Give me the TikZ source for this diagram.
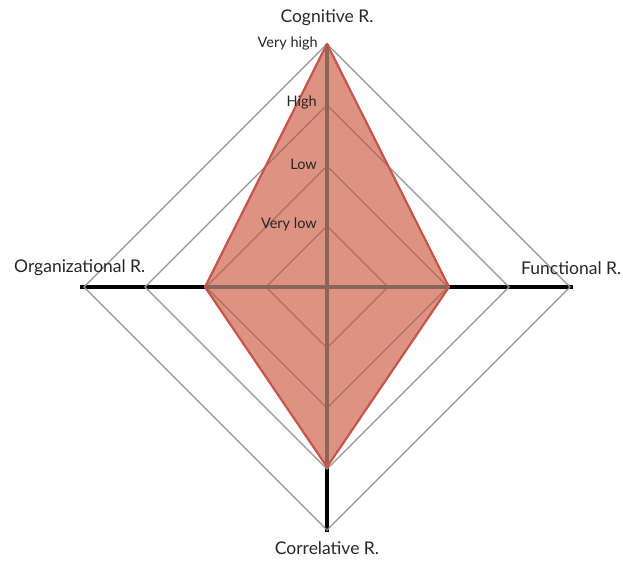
\documentclass[tikz,border=0pt]{standalone}
\usepackage{fontspec}
\setmainfont{Lato}
\begin{document}
\begin{tikzpicture}[x=1pt,y=1pt,
  axisline/.style={line width=3.2pt,black},
  gridline/.style={line width=1.3pt,color=gray!85},
  profilefillstyle/.style={fill=profilefill},
  profileedgestyle/.style={draw=profileedge,line width=2.2pt,line join=round},
  axislabel/.style={font=\fontsize{17.5}{20}\selectfont,text=black!85,inner sep=0pt},
  levellabel/.style={font=\fontsize{14.5}{16}\selectfont,text=black!85,inner sep=0pt,anchor=east}]
\definecolor{profilefill}{RGB}{221,146,130}
\definecolor{profileedge}{RGB}{198,85,75}
\definecolor{axisinside}{RGB}{140,100,90}
\definecolor{gridinside}{RGB}{172,110,98}
\useasboundingbox (-327,-273) rectangle (296,287);
% centre and axis ends
\coordinate (O) at (0,0);
\coordinate (T) at (0,243);
\coordinate (L) at (-247,0);
\coordinate (R) at (246,0);
\coordinate (B) at (0,-245);
% axes
\draw[axisline] (O) -- (T);
\draw[axisline] (L) -- (R);
\draw[axisline] (O) -- (B);
% level diamonds
\foreach \r in {61,121,182,243}
  \draw[gridline] (0,\r) -- (\r,0) -- (0,-\r) -- (-\r,0) -- cycle;
% profile
\coordinate (pT) at (0,243);
\coordinate (pR) at (122,0);
\coordinate (pB) at (0,-180);
\coordinate (pL) at (-122,0);
\fill[profilefillstyle] (pT) -- (pR) -- (pB) -- (pL) -- cycle;
% axes and levels seen through the profile
\begin{scope}
  \clip (pT) -- (pR) -- (pB) -- (pL) -- cycle;
  \foreach \r in {61,121,182,243}
    \draw[line width=1.3pt,gridinside] (0,\r) -- (\r,0) -- (0,-\r) -- (-\r,0) -- cycle;
  \draw[line width=3.2pt,axisinside] (O) -- (T);
  \draw[line width=3.2pt,axisinside] (L) -- (R);
  \draw[line width=3.2pt,axisinside] (O) -- (B);
\end{scope}
\draw[profileedgestyle] (pT) -- (pR) -- (pB) -- (pL) -- cycle;
% axis names
\node[axislabel] (cog) at (0,269) {Cognitive R.};
\node[axislabel,anchor=west] (org) at (-313,19) {Organizational R.};
\node[axislabel,anchor=west] (fun) at (194,19) {Functional R.};
\node[axislabel] (cor) at (0,-261) {Correlative R.};
% level names
\node[levellabel] (vh) at (-9,244) {Very high};
\node[levellabel] (hi) at (-10,185) {High};
\node[levellabel] (lo) at (-10,123) {Low};
\node[levellabel] (vl) at (-10,63) {Very low};
\end{tikzpicture}
\end{document}
